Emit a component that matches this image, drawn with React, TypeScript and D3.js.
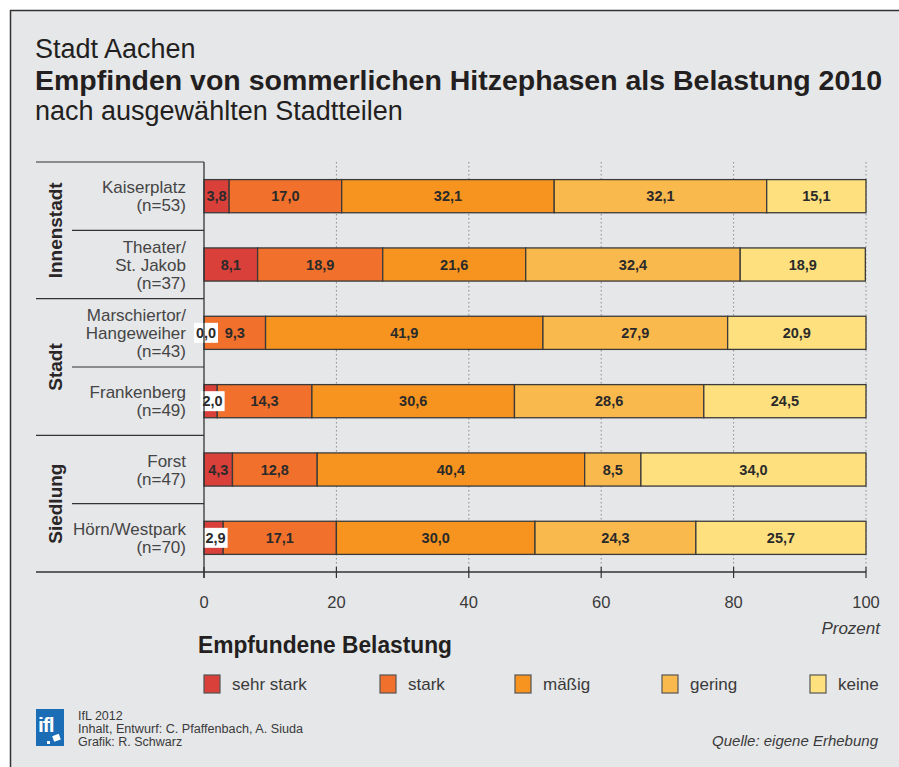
import React from "react";
import * as d3 from "d3";

const districts = [
  ["Kaiserplatz", "(n=53)"],
  ["Theater/", "St. Jakob", "(n=37)"],
  ["Marschiertor/", "Hangeweiher", "(n=43)"],
  ["Frankenberg", "(n=49)"],
  ["Forst", "(n=47)"],
  ["Hörn/Westpark", "(n=70)"],
];
const groups = [
  { name: "Innenstadt", rows: 2 },
  { name: "Stadt", rows: 2 },
  { name: "Siedlung", rows: 2 },
];
const seriesNames = ["sehr stark", "stark", "mäßig", "gering", "keine"];
const sehrStark = [3.8, 8.1, 0.0, 2.0, 4.3, 2.9];
const stark = [17.0, 18.9, 9.3, 14.3, 12.8, 17.1];
const maessig = [32.1, 21.6, 41.9, 30.6, 40.4, 30.0];
const gering = [32.1, 32.4, 27.9, 28.6, 8.5, 24.3];
const keine = [15.1, 18.9, 20.9, 24.5, 34.0, 25.7];
const ticks = [0, 20, 40, 60, 80, 100];
const colors = ["#d9403a", "#f1702b", "#f6941f", "#fab94c", "#fee07f"];

const FONT = "'Liberation Sans', Arial, Helvetica, sans-serif";

export default function App() {
  const series = [sehrStark, stark, maessig, gering, keine];
  const x = d3.scaleLinear().domain([0, 100]).range([204, 866]);
  const y = d3
    .scaleBand<number>()
    .domain(d3.range(districts.length))
    .range([162, 572])
    .paddingInner(0.515)
    .paddingOuter(0.2575);
  const step = y.step();
  const top = 162;
  const bottom = 572;

  const fmt = (v: number) => v.toFixed(1).replace(".", ",");

  const stacks = districts.map((_, i) => {
    let acc = 0;
    return series.map((s) => {
      const x0 = acc;
      acc += s[i];
      return [x0, Math.min(acc, 100), s[i]];
    });
  });

  const legendX = [204, 380, 515, 662, 810];

  let rowCursor = 0;
  const groupEls = groups.map((g, gi) => {
    const y0 = top + rowCursor * step;
    const y1 = y0 + g.rows * step;
    rowCursor += g.rows;
    const cy = (y0 + y1) / 2;
    return (
      <g key={"g" + gi}>
        <text
          transform={`translate(55,${cy}) rotate(-90)`}
          textAnchor="middle"
          dominantBaseline="central"
          fontSize={19}
          fontWeight="bold"
          fill="#2a2627"
        >
          {g.name}
        </text>
        {gi > 0 && (
          <line x1={36} x2={204} y1={y0} y2={y0} stroke="#333" strokeWidth={1.2} />
        )}
        {Array.from({ length: g.rows - 1 }, (_, k) => (
          <line
            key={k}
            x1={72}
            x2={204}
            y1={y0 + (k + 1) * step}
            y2={y0 + (k + 1) * step}
            stroke="#333"
            strokeWidth={1.2}
          />
        ))}
      </g>
    );
  });

  return (
    <svg
      width={899}
      height={767}
      style={{ position: "absolute", left: 0, top: 0, fontFamily: FONT }}
    >
      <rect x={0} y={0} width={899} height={767} fill="#ffffff" />
      <rect x={10} y={10} width={889} height={757} fill="#e6e7e9" />
      <line x1={10} x2={899} y1={10.5} y2={10.5} stroke="#333" strokeWidth={1.5} />
      <line x1={10.5} x2={10.5} y1={10} y2={767} stroke="#333" strokeWidth={1.5} />

      <text x={35} y={58} fontSize={27} fill="#231f20">
        Stadt Aachen
      </text>
      <text
        x={35}
        y={90}
        fontSize={28.5}
        fontWeight="bold"
        fill="#231f20"
        textLength={847}
        lengthAdjust="spacingAndGlyphs"
      >
        Empfinden von sommerlichen Hitzephasen als Belastung 2010
      </text>
      <text x={35} y={120} fontSize={27} fill="#231f20">
        nach ausgewählten Stadtteilen
      </text>

      {ticks.slice(1).map((t) => (
        <line
          key={"gl" + t}
          x1={x(t)}
          x2={x(t)}
          y1={top}
          y2={bottom}
          stroke="#8a8a8a"
          strokeWidth={1}
          strokeDasharray="1.5,2.5"
        />
      ))}

      <line x1={36} x2={204} y1={top} y2={top} stroke="#333" strokeWidth={1.2} />
      {groupEls}

      {districts.map((lines, i) => {
        const cy = (y(i) as number) + y.bandwidth() / 2;
        const lh = 18;
        const start = cy - ((lines.length - 1) * lh) / 2;
        return (
          <text
            key={"rl" + i}
            textAnchor="end"
            fontSize={17}
            fill="#454545"
            dominantBaseline="central"
          >
            {lines.map((l, k) => (
              <tspan key={k} x={186} y={start + k * lh}>
                {l}
              </tspan>
            ))}
          </text>
        );
      })}

      {stacks.map((segs, i) =>
        segs.map(([a, b], j) => (
          <rect
            key={`b${i}-${j}`}
            x={x(a)}
            y={y(i)}
            width={Math.max(0, x(b) - x(a))}
            height={y.bandwidth()}
            fill={colors[j]}
            stroke="#3a3a3a"
            strokeWidth={1.3}
          />
        ))
      )}

      {stacks.map((segs, i) =>
        segs.map(([a, b, v], j) => {
          const cy = (y(i) as number) + y.bandwidth() / 2;
          const small = v < 3.5;
          const cx = small ? Math.max(x((a + b) / 2) + 2, 206) : x((a + b) / 2);
          return (
            <g key={`l${i}-${j}`}>
              {small && (
                <rect x={cx - 12} y={cy - 10} width={24} height={20} fill="#ffffff" />
              )}
              <text
                x={cx}
                y={cy}
                textAnchor="middle"
                dominantBaseline="central"
                fontSize={14.5}
                fontWeight="bold"
                fill="#2a2a2a"
              >
                {fmt(v)}
              </text>
            </g>
          );
        })
      )}

      <line x1={36} x2={866} y1={bottom} y2={bottom} stroke="#333" strokeWidth={1.3} />
      <line x1={204} x2={204} y1={top} y2={bottom + 6} stroke="#333" strokeWidth={1.3} />
      {ticks.map((t) => (
        <g key={"t" + t}>
          <line x1={x(t)} x2={x(t)} y1={bottom - 5} y2={bottom + 6} stroke="#333" strokeWidth={1.2} />
          <text x={x(t)} y={608} textAnchor="middle" fontSize={16.5} fill="#3a3a3a">
            {t}
          </text>
        </g>
      ))}
      <text x={880} y={634} textAnchor="end" fontSize={17} fontStyle="italic" fill="#3a3a3a">
        Prozent
      </text>

      <text
        x={198}
        y={653}
        fontSize={23}
        fontWeight="bold"
        fill="#231f20"
        textLength={254}
        lengthAdjust="spacingAndGlyphs"
      >
        Empfundene Belastung
      </text>
      {seriesNames.map((n, j) => (
        <g key={"lg" + j}>
          <rect x={legendX[j]} y={675} width={16} height={18} fill={colors[j]} stroke="#555" strokeWidth={1.2} />
          <text x={legendX[j] + 28} y={690} fontSize={17} fill="#3a3a3a">
            {n}
          </text>
        </g>
      ))}

      <rect x={36} y={709} width={28} height={37} fill="#1b6db5" />
      <text x={38} y={732} fontSize={21} fontWeight="bold" fill="#fff" letterSpacing={-1}>
        ifl
      </text>
      <rect x={53} y={735} width={7} height={6} fill="#fff" transform="rotate(-20 56 738)" />
      <rect x={47} y={741} width={3} height={3} fill="#fff" />
      <text x={78} y={720} fontSize={12.5} fill="#3a3a3a">
        IfL 2012
      </text>
      <text x={78} y={733} fontSize={12.5} fill="#3a3a3a" textLength={225} lengthAdjust="spacingAndGlyphs">
        Inhalt, Entwurf: C. Pfaffenbach, A. Siuda
      </text>
      <text x={78} y={746} fontSize={12.5} fill="#3a3a3a">
        Grafik: R. Schwarz
      </text>
      <text x={878} y={746} textAnchor="end" fontSize={15} fontStyle="italic" fill="#3a3a3a">
        Quelle: eigene Erhebung
      </text>
    </svg>
  );
}
